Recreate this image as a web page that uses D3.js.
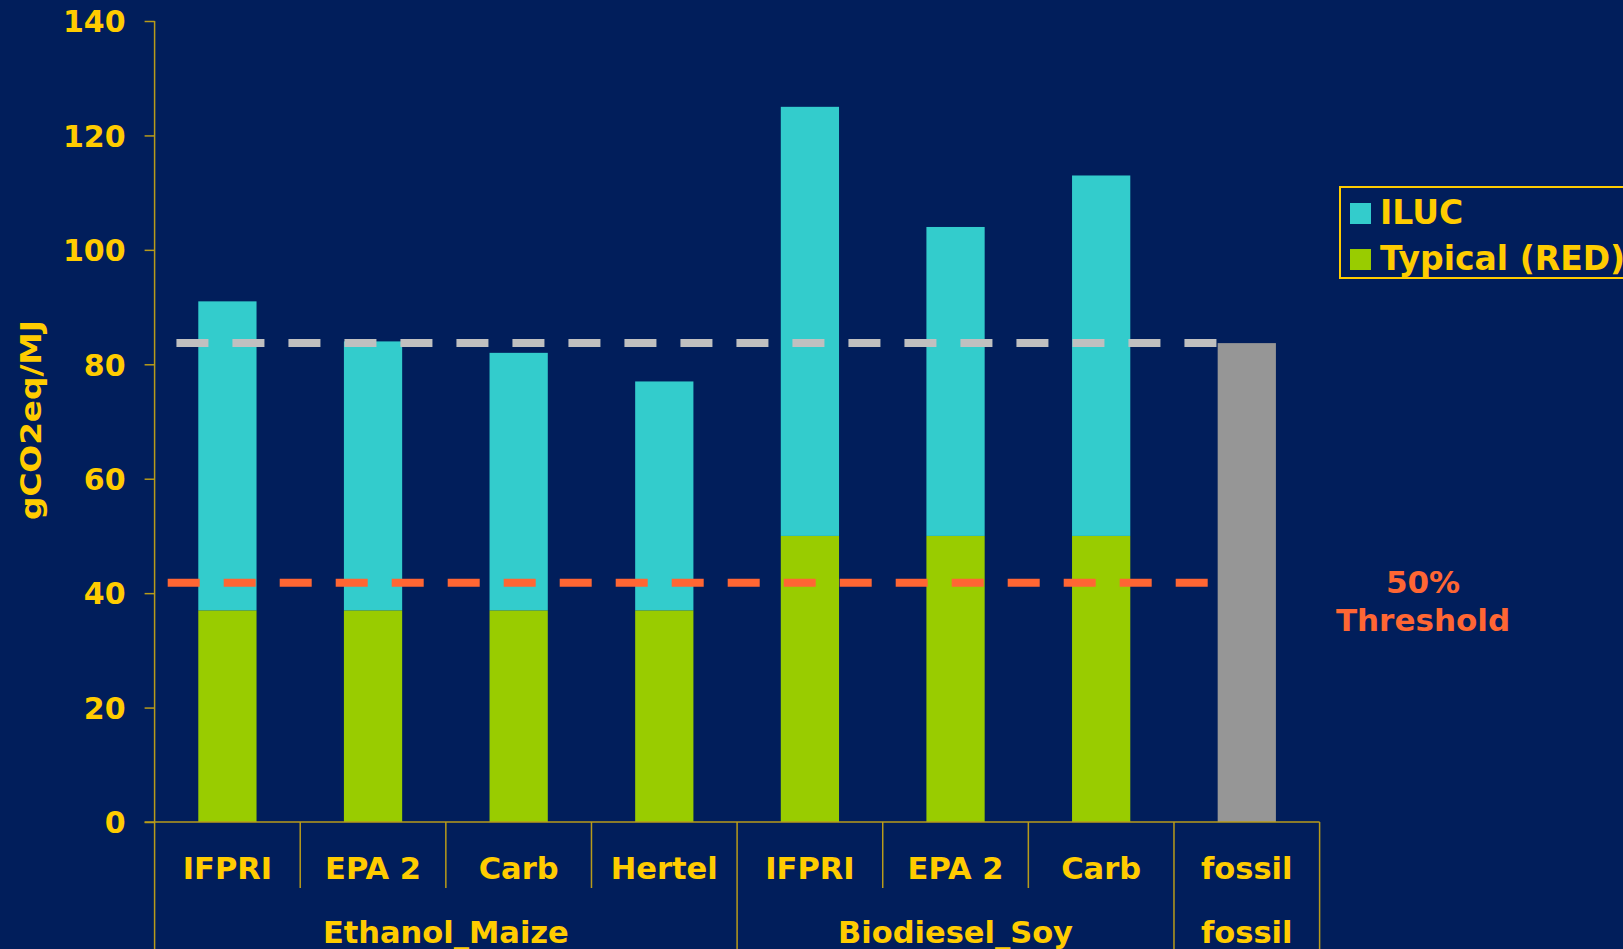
<!DOCTYPE html>
<html>
<head>
<meta charset="utf-8">
<script src="https://cdn.jsdelivr.net/npm/d3@7"></script>
<style>
  html, body { margin: 0; padding: 0; background: #011E5B; overflow: hidden; }
  svg { display: block; }
  text { font-family: "DejaVu Sans", Verdana, sans-serif; font-weight: bold; }
</style>
</head>
<body>
<svg id="chart" width="1623" height="949"></svg>
<script>
// ---- data ----
const categories = ["IFPRI", "EPA 2", "Carb", "Hertel", "IFPRI", "EPA 2", "Carb", "fossil"];
const groups = ["Ethanol_Maize", "Ethanol_Maize", "Ethanol_Maize", "Ethanol_Maize",
                "Biodiesel_Soy", "Biodiesel_Soy", "Biodiesel_Soy", "fossil"];
const groupNames = ["Ethanol_Maize", "Biodiesel_Soy", "fossil"];
const typicalRED = [37, 37, 37, 37, 50, 50, 50, 0];
const totalWithILUC = [91, 84, 82, 77, 125, 104, 113, 0];
const fossilValue = [0, 0, 0, 0, 0, 0, 0, 83.7];
const yTicks = [0, 20, 40, 60, 80, 100, 120, 140];
const fossilComparator = 83.7;
const threshold50 = 41.8;
const legendLabels = ["ILUC", "Typical (RED)"];

// ---- styles ----
const C = {
  bg: "#011E5B", text: "#FFCC00", axis: "#B89B1A",
  iluc: "#33CCCC", typical: "#99CC00", fossil: "#969696",
  grayDash: "#C0C0C0", orange: "#FF6633"
};

const svg = d3.select("#chart");
svg.append("rect").attr("width", 1623).attr("height", 949).attr("fill", C.bg);

const x0 = 154.6, x1 = 1319.6, yTop = 21, yBot = 822;
const x = d3.scaleBand().domain(d3.range(categories.length)).range([x0, x1]).padding(0);
const y = d3.scaleLinear().domain([0, 140]).range([yBot, yTop]);
const bw = x.bandwidth();
const barW = bw * 0.4;
const barX = i => x(i) + (bw - barW) / 2;

// ---- bars ----
const g = svg.append("g");
g.selectAll(".typ").data(typicalRED).join("rect")
  .attr("x", (d, i) => barX(i)).attr("width", barW)
  .attr("y", d => y(d)).attr("height", d => y(0) - y(d))
  .attr("fill", C.typical);
g.selectAll(".ilu").data(totalWithILUC).join("rect")
  .attr("x", (d, i) => barX(i)).attr("width", barW)
  .attr("y", d => y(d)).attr("height", (d, i) => Math.max(0, y(typicalRED[i]) - y(d)))
  .attr("fill", C.iluc);
g.selectAll(".fos").data(fossilValue).join("rect")
  .attr("x", (d, i) => barX(i)).attr("width", barW)
  .attr("y", d => y(d)).attr("height", d => y(0) - y(d))
  .attr("fill", C.fossil);

// ---- reference lines ----
svg.append("line")
  .attr("x1", x(0) + bw * 0.15).attr("x2", barX(7) - 1)
  .attr("y1", y(fossilComparator)).attr("y2", y(fossilComparator))
  .attr("stroke", C.grayDash).attr("stroke-width", 8).attr("stroke-dasharray", "32 24");
svg.append("line")
  .attr("x1", x(0) + bw * 0.09).attr("x2", barX(7) - 9)
  .attr("y1", y(threshold50)).attr("y2", y(threshold50))
  .attr("stroke", C.orange).attr("stroke-width", 8).attr("stroke-dasharray", "32 24");

// ---- y axis ----
const yAxis = svg.append("g").attr("transform", `translate(${x0},0)`)
  .call(d3.axisLeft(y).tickValues(yTicks).tickSize(10).tickPadding(19));
yAxis.select(".domain").remove();
yAxis.selectAll(".tick line").attr("stroke", C.axis).attr("stroke-width", 1.5);
yAxis.selectAll(".tick text").attr("fill", C.text)
  .style("font-size", "30px").style("font-family", '"DejaVu Sans", sans-serif')
  .style("font-weight", "bold").attr("dy", "0.36em");

// vertical axis line from top down to bottom of the page
svg.append("line").attr("x1", x0).attr("x2", x0).attr("y1", yTop).attr("y2", 949)
  .attr("stroke", C.axis).attr("stroke-width", 1.5);

// ---- x axis ----
svg.append("line").attr("x1", x0 - 10).attr("x2", x1).attr("y1", yBot).attr("y2", yBot)
  .attr("stroke", C.axis).attr("stroke-width", 1.5);

// dividers
const boundaries = d3.range(1, categories.length + 1);
boundaries.forEach(i => {
  const xb = i < categories.length ? x(i) : x1;
  const isGroup = i === categories.length || groups[i] !== groups[i - 1];
  svg.append("line").attr("x1", xb).attr("x2", xb)
    .attr("y1", yBot).attr("y2", isGroup ? 949 : 888)
    .attr("stroke", C.axis).attr("stroke-width", 1.5);
});

// category labels
svg.selectAll(".cat").data(categories).join("text")
  .attr("x", (d, i) => x(i) + bw / 2).attr("y", 879)
  .attr("text-anchor", "middle").attr("fill", C.text)
  .style("font-size", "30.5px").text(d => d);

// group labels
groupNames.forEach(gn => {
  const idx = d3.range(categories.length).filter(i => groups[i] === gn);
  const cx = (x(idx[0]) + x(idx[idx.length - 1]) + bw) / 2;
  svg.append("text").attr("x", cx).attr("y", 943)
    .attr("text-anchor", "middle").attr("fill", C.text)
    .style("font-size", "30.5px").text(gn);
});

// y label
svg.append("text").attr("transform", "translate(41,420) rotate(-90)")
  .attr("text-anchor", "middle").attr("fill", C.text)
  .attr("textLength", 200).attr("lengthAdjust", "spacingAndGlyphs")
  .style("font-size", "28px").text("gCO2eq/MJ");

// ---- legend ----
const lg = svg.append("g");
lg.append("rect").attr("x", 1340).attr("y", 187).attr("width", 400).attr("height", 91)
  .attr("fill", "none").attr("stroke", C.text).attr("stroke-width", 2);
const legendColors = [C.iluc, C.typical];
legendLabels.forEach((lab, i) => {
  lg.append("rect").attr("x", 1350).attr("y", 203 + i * 46).attr("width", 21).attr("height", 21)
    .attr("fill", legendColors[i]);
  lg.append("text").attr("x", 1380).attr("y", 224 + i * 46).attr("fill", C.text)
    .style("font-size", "33px").text(lab);
});

// ---- threshold annotation ----
svg.append("text").attr("x", 1423).attr("y", 593).attr("text-anchor", "middle")
  .attr("fill", C.orange).style("font-size", "31px").text("50%");
svg.append("text").attr("x", 1423).attr("y", 631).attr("text-anchor", "middle")
  .attr("fill", C.orange).style("font-size", "31px").text("Threshold");
</script>
</body>
</html>
